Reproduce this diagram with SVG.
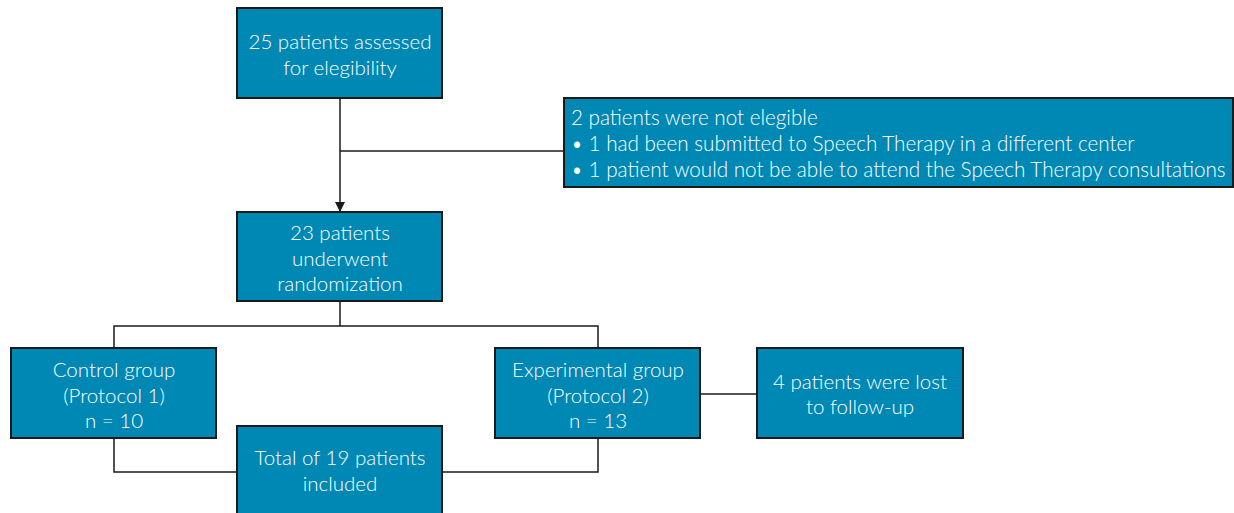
<svg xmlns="http://www.w3.org/2000/svg" width="1234" height="513" viewBox="0 0 1234 513">
<defs>
<style>
.box{fill:#0088b5;stroke:#1a1a1a;stroke-width:2}
.t{font-family:Lato,"Open Sans",sans-serif;font-weight:300;font-size:20.5px;fill:#ffffff}
.c{text-anchor:middle}
.w{font-size:20.65px}
.ln{fill:none;stroke:#1a1a1a;stroke-width:1.5}
</style>
<marker id="arr" markerWidth="10" markerHeight="10" refX="9" refY="5" orient="auto" markerUnits="userSpaceOnUse">
<path d="M0,0 L10,5 L0,10 z" fill="#1a1a1a"/>
</marker>
</defs>
<rect width="1234" height="513" fill="#ffffff"/>
<g id="connectors">
<path class="ln" d="M340,98 V211" marker-end="url(#arr)"/>
<path class="ln" d="M340,151 H564"/>
<path class="ln" d="M340,301 V326 M114,348 V326 H598 V348"/>
<path class="ln" d="M700,394 H757"/>
<path class="ln" d="M114,438 V472 H237 M598,438 V472 H442"/>
</g>
<g id="n1">
<rect class="box" x="237" y="8" width="205" height="90"/>
<text class="t c" x="340" y="49">25 patients assessed</text>
<text class="t c" x="340" y="75">for elegibility</text>
</g>
<g id="n2">
<rect class="box" x="564" y="98" width="669" height="89"/>
<text class="t w" x="571" y="125">2 patients were not elegible</text>
<text class="t w" x="571" y="151">• 1 had been submitted to Speech Therapy in a different center</text>
<text class="t w" x="571" y="177">• 1 patient would not be able to attend the Speech Therapy consultations</text>
</g>
<g id="n3">
<rect class="box" x="237" y="212" width="205" height="89"/>
<text class="t c" x="340" y="240">23 patients</text>
<text class="t c" x="340" y="266">underwent</text>
<text class="t c" x="340" y="291">randomization</text>
</g>
<g id="n4">
<rect class="box" x="11" y="348" width="205" height="90"/>
<text class="t c" x="114" y="377">Control group</text>
<text class="t c" x="114" y="403">(Protocol 1)</text>
<text class="t c" x="114" y="428">n = 10</text>
</g>
<g id="n5">
<rect class="box" x="495" y="348" width="205" height="90"/>
<text class="t c" x="598" y="377">Experimental group</text>
<text class="t c" x="598" y="403">(Protocol 2)</text>
<text class="t c" x="598" y="428">n = 13</text>
</g>
<g id="n6">
<rect class="box" x="757" y="348" width="206" height="90"/>
<text class="t c" x="860" y="389">4 patients were lost</text>
<text class="t c" x="860" y="414">to follow-up</text>
</g>
<g id="n7">
<rect class="box" x="237" y="426" width="205" height="92"/>
<text class="t c" x="340" y="465">Total of 19 patients</text>
<text class="t c" x="340" y="491">included</text>
</g>
</svg>
